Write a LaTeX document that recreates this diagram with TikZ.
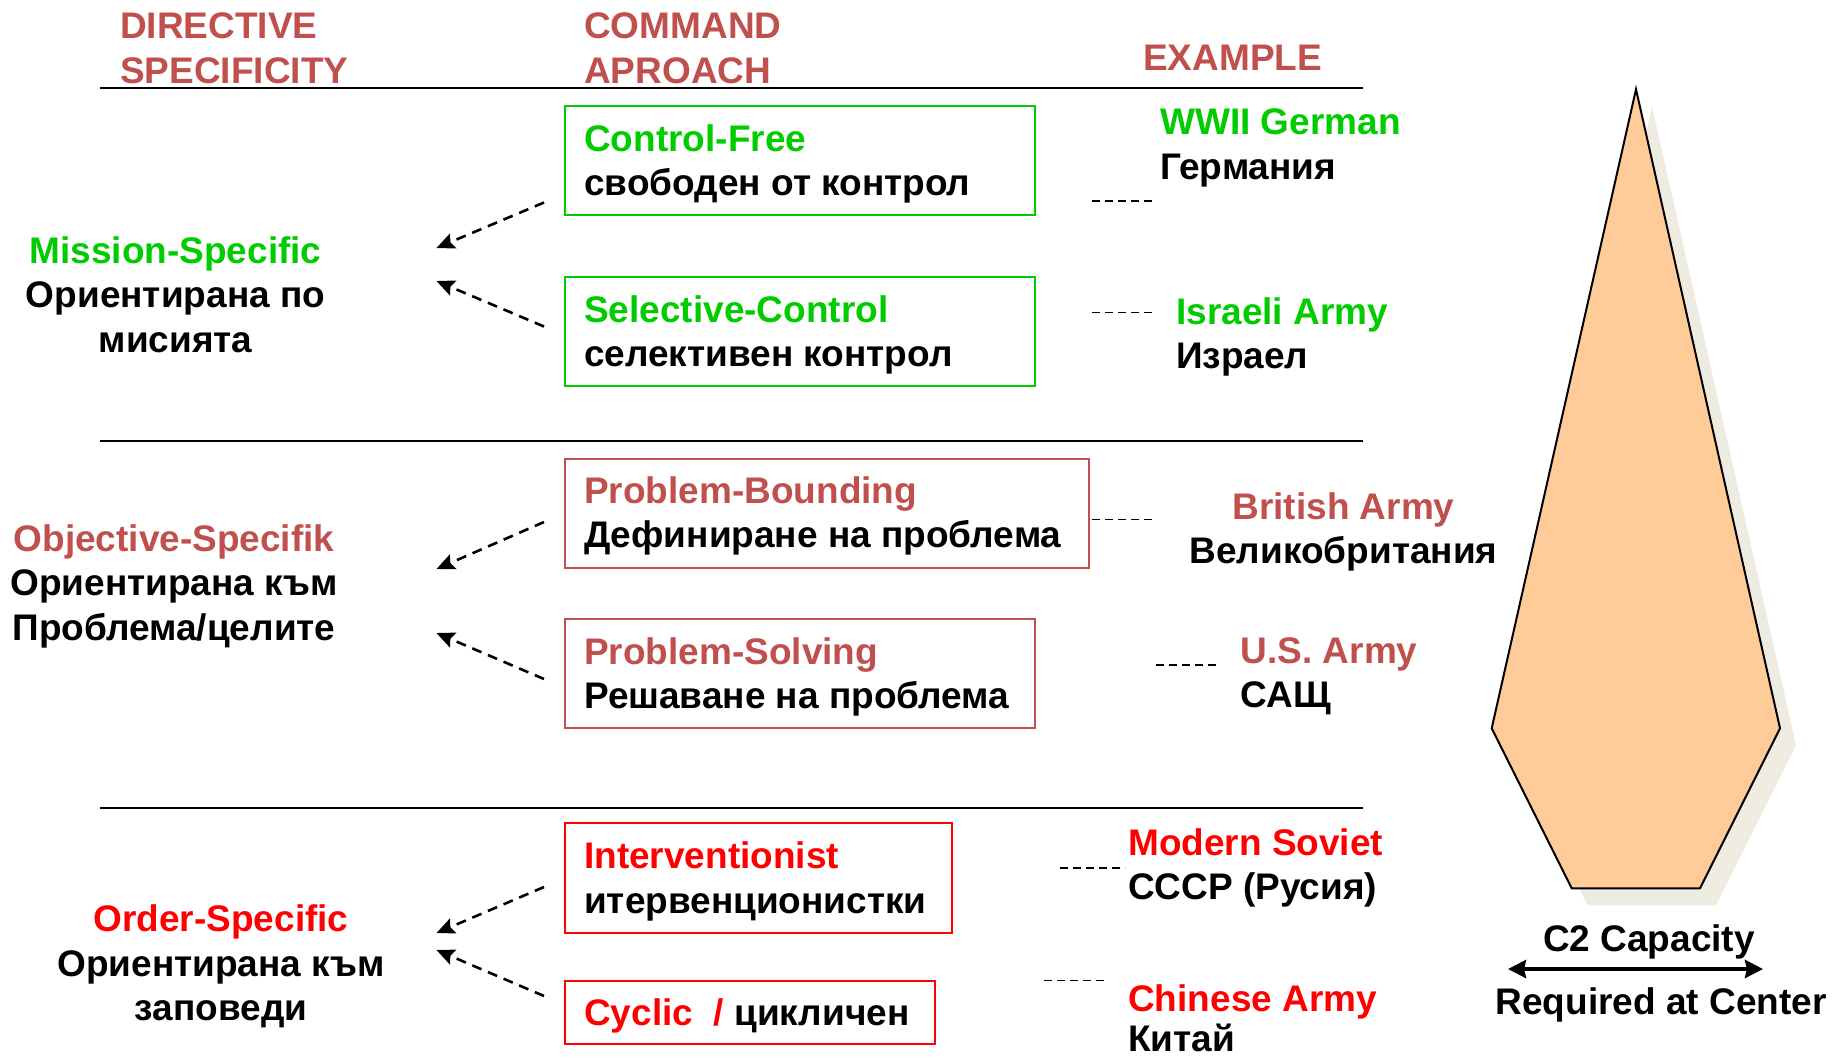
\documentclass[tikz,border=0pt]{standalone}
\usepackage{fontspec}
\setmainfont{Liberation Sans}
\usetikzlibrary{arrows.meta}
\definecolor{hdr}{HTML}{C0504D}
\definecolor{grn}{HTML}{00CC00}
\definecolor{rd}{HTML}{FF0000}
\definecolor{peach}{HTML}{FFCC99}
\definecolor{shd}{HTML}{EEECE1}
\tikzset{
  txt/.style={inner sep=0pt, font=\fontsize{37}{45}\selectfont\bfseries},
  lt/.style={txt, anchor=base west},
  ct/.style={txt, anchor=base},
  sep/.style={line width=2pt},
  cbox/.style={draw, line width=2pt, anchor=north west, inner sep=0pt},
  darr/.style={line width=2.6pt, dash pattern=on 10pt off 7pt, -{Stealth[length=18pt,width=16pt,inset=3pt]}},
  tie/.style={line width=1.5pt, dash pattern=on 8pt off 5pt}
}
\begin{document}
\begin{tikzpicture}[x=1pt,y=-1pt]
\useasboundingbox (0,0) rectangle (1835,1058);
% headers
\node[lt, hdr] (h1) at (120,38) {DIRECTIVE};
\node[lt, hdr] (h2) at (120,83) {SPECIFICITY};
\node[lt, hdr] (h3) at (584,38) {COMMAND};
\node[lt, hdr] (h4) at (584,83) {APROACH};
\node[lt, hdr] (h5) at (1143,70) {EXAMPLE};
% separators
\coordinate (s1a) at (99.5,88); \coordinate (s1b) at (1363,88);
\coordinate (s2a) at (99.5,441); \coordinate (s2b) at (1363,441);
\coordinate (s3a) at (99.5,807.5); \coordinate (s3b) at (1363,807.5);
\draw[sep] (s1a) -- (s1b);
\draw[sep] (s2a) -- (s2b);
\draw[sep] (s3a) -- (s3b);
% boxes
\node[cbox, grn, minimum width=470pt, minimum height=109pt] (b1) at (564,105) {};
\node[cbox, grn, minimum width=470pt, minimum height=109pt] (b2) at (564,276) {};
\node[cbox, hdr, minimum width=524pt, minimum height=109pt] (b3) at (564,457.5) {};
\node[cbox, hdr, minimum width=470pt, minimum height=109pt] (b4) at (564,618) {};
\node[cbox, rd, minimum width=387pt, minimum height=110pt] (b5) at (564,821.5) {};
\node[cbox, rd, minimum width=370pt, minimum height=63pt] (b6) at (564,979.5) {};
% box texts
\node[lt, grn] (t1a) at (584,151) {Control-Free};
\node[lt] (t1b) at (584,195.5) {свободен от контрол};
\node[lt, grn] (t2a) at (584,322) {Selective-Control};
\node[lt] (t2b) at (584,366.5) {селективен контрол};
\node[lt, hdr] (t3a) at (584,503) {Problem-Bounding};
\node[lt] (t3b) at (584,547.5) {Дефиниране на проблема};
\node[lt, hdr] (t4a) at (584,664) {Problem-Solving};
\node[lt] (t4b) at (584,708.5) {Решаване на проблема};
\node[lt, rd] (t5a) at (584,868.5) {Interventionist};
\node[lt] (t5b) at (584,913) {итервенционистки};
\node[lt] (t6) at (584,1025) {\textcolor{rd}{Cyclic\ \ /} цикличен};
% left labels
\node[ct, grn] (m1) at (175.5,263) {Mission-Specific};
\node[ct] (m2) at (175.5,307.5) {Ориентирана по};
\node[ct] (m3) at (175.5,352) {мисията};
\node[ct, hdr] (o1) at (174,551) {Objective-Specifik};
\node[ct] (o2) at (174,595.5) {Ориентирана към};
\node[ct] (o3) at (174,640) {Проблема/целите};
\node[ct, rd] (r1) at (221,931.5) {Order-Specific};
\node[ct] (r2) at (221,976) {Ориентирана към};
\node[ct] (r3) at (221,1020.5) {заповеди};
% dashed arrows
\coordinate (a1s) at (544,202.5); \coordinate (a1e) at (436.5,248);
\coordinate (a2s) at (544,326.5); \coordinate (a2e) at (436.5,281);
\coordinate (a3s) at (544,522); \coordinate (a3e) at (436.5,569);
\coordinate (a4s) at (544,679); \coordinate (a4e) at (436.5,633);
\coordinate (a5s) at (544,887); \coordinate (a5e) at (436.5,933);
\coordinate (a6s) at (544,996); \coordinate (a6e) at (436.5,950);
\draw[darr] (a1s) -- (a1e);
\draw[darr] (a2s) -- (a2e);
\draw[darr] (a3s) -- (a3e);
\draw[darr] (a4s) -- (a4e);
\draw[darr] (a5s) -- (a5e);
\draw[darr] (a6s) -- (a6e);
% example ties
\coordinate (e1a) at (1092,201); \coordinate (e1b) at (1156,201);
\coordinate (e2a) at (1092,312.5); \coordinate (e2b) at (1156,312.5);
\coordinate (e3a) at (1092,519.6); \coordinate (e3b) at (1156,519.6);
\coordinate (e4a) at (1156,665); \coordinate (e4b) at (1220.6,665);
\coordinate (e5a) at (1060,868); \coordinate (e5b) at (1125,868);
\coordinate (e6a) at (1044,980.7); \coordinate (e6b) at (1108,980.7);
\draw[tie] (e1a) -- (e1b);
\draw[tie] (e2a) -- (e2b);
\draw[tie] (e3a) -- (e3b);
\draw[tie] (e4a) -- (e4b);
\draw[tie] (e5a) -- (e5b);
\draw[tie] (e6a) -- (e6b);
% examples
\node[lt, grn] (x1a) at (1160,134.5) {WWII German};
\node[lt] (x1b) at (1160,179) {Германия};
\node[lt, grn] (x2a) at (1176,324) {Israeli Army};
\node[lt] (x2b) at (1176,368.5) {Израел};
\node[ct, hdr] (x3a) at (1343.5,519) {British Army};
\node[ct] (x3b) at (1343.5,563.5) {Великобритания};
\node[lt, hdr] (x4a) at (1240.5,663) {U.S. Army};
\node[lt] (x4b) at (1240.5,707.5) {САЩ};
\node[lt, rd] (x5a) at (1128,855) {Modern Soviet};
\node[lt] (x5b) at (1128,899.5) {СССР (Русия)};
\node[lt, rd] (x6a) at (1128,1011) {Chinese Army};
\node[lt] (x6b) at (1128,1051) {Китай};
% C2 shape
\fill[shd, shift={(16,17)}] (1636,89.3) -- (1780,728.3) -- (1700,888.3) -- (1571.7,888.3) -- (1491.7,728.3) -- cycle;
\filldraw[fill=peach, draw=black, line width=2pt, line join=miter] (1636,89.3) -- (1780,728.3) -- (1700,888.3) -- (1571.7,888.3) -- (1491.7,728.3) -- cycle;
\node[ct] (c1) at (1649,951) {C2 Capacity};
\coordinate (dl) at (1508,969); \coordinate (dr) at (1763,969);
\draw[line width=4pt, {Stealth[length=18pt,width=18pt,inset=2pt]}-{Stealth[length=18pt,width=18pt,inset=2pt]}] (dl) -- (dr);
\node[ct] (c2) at (1661,1014) {Required at Center};
\end{tikzpicture}
\end{document}
